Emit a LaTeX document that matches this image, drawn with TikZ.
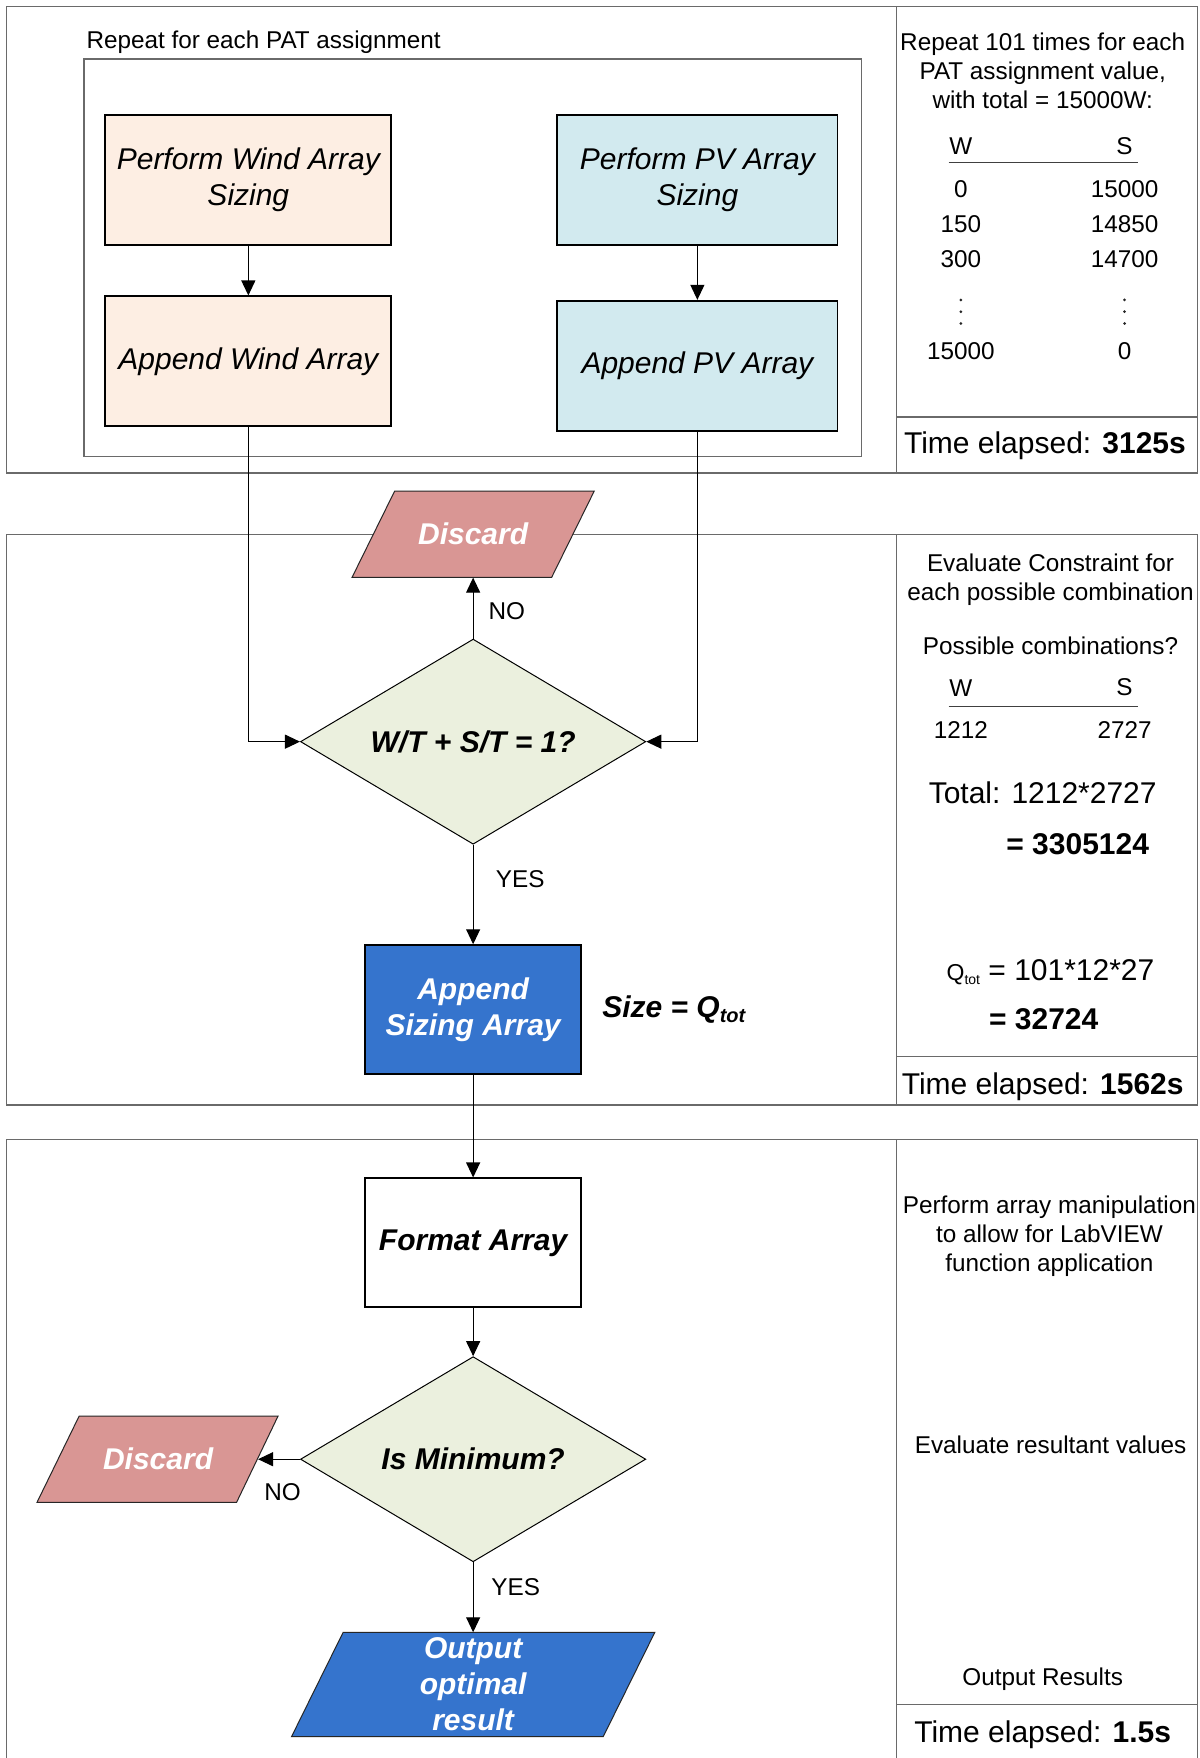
\documentclass[tikz,border=0pt]{standalone}
\usepackage{fontspec}
\setmainfont{Liberation Sans}
\usetikzlibrary{arrows.meta,shapes.geometric}
\definecolor{windc}{HTML}{FDEEE3}
\definecolor{pvc}{HTML}{D2EAEF}
\definecolor{discc}{HTML}{D99694}
\definecolor{diac}{HTML}{EBF0DE}
\definecolor{bluec}{HTML}{3574CD}
\definecolor{framec}{HTML}{6A6A6A}
\newcommand\smf{\fontsize{24.3}{29}\selectfont}
\newcommand\bgf{\fontsize{30}{36}\selectfont}
\begin{document}
\begin{tikzpicture}[x=1.1215pt,y=-1.1215pt,
  frame/.style={draw=framec,line width=1.3pt},
  procbox/.style={rectangle,draw=black,line width=1.8pt,align=center,font=\bgf\itshape,inner sep=0pt},
  decision/.style={diamond,aspect=1.68,draw=black,line width=1pt,fill=diac,inner sep=0pt,minimum width=345.4pt,minimum height=205.2pt,font=\bgf\bfseries\itshape},
  paratext/.style={rectangle,inner sep=0pt,align=center,font=\bgf\bfseries\itshape,text=white},
  parashape/.style={draw=black!85,line width=1pt},
  conn/.style={draw=black,line width=1.1pt},
  arr/.style={conn,-{Triangle[length=15pt,width=14pt]}},
  lbl/.style={font=\smf,inner sep=0pt,align=center},
  big/.style={font=\bgf,inner sep=0pt,align=center}
]
\useasboundingbox (0,0) rectangle (1070,1568);
\fill[white] (0,0) rectangle (1070,1568);

% section frames
\draw[frame] (5.5,6) rectangle (1068,422);
\draw[frame] (799.5,6) -- (799.5,422);
\draw[frame] (799.5,372) -- (1068,372);
\draw[frame] (75,52.5) rectangle (768.5,407);

\draw[frame] (5.5,476.5) rectangle (1068,985.5);
\draw[frame] (799.5,476.5) -- (799.5,985.5);
\draw[frame] (799.5,942.5) -- (1068,942.5);

\draw[frame] (5.5,1568) -- (5.5,1016.5) -- (1068,1016.5) -- (1068,1568);
\draw[frame] (799.5,1016.5) -- (799.5,1568);
\draw[frame] (799.5,1520) -- (1068,1520);

\node[lbl,anchor=west] (rep) at (77,37.5) {Repeat for each PAT assignment};

% process boxes
\node[procbox,fill=windc,minimum width=286pt,minimum height=130pt] (w1) at (221.5,160.5) {Perform Wind Array\\Sizing};
\node[procbox,fill=windc,minimum width=286pt,minimum height=130pt] (w2) at (221.5,322.3) {Append Wind Array};
\node[procbox,fill=pvc,minimum width=280.4pt,minimum height=130pt] (p1) at (622,160.5) {Perform PV Array\\Sizing};
\node[procbox,fill=pvc,minimum width=280.4pt,minimum height=130pt] (p2) at (622,326.2) {Append PV Array};

% discard 1
\draw[parashape,fill=discc] (314,515) -- (492,515) -- (530,438) -- (352,438) -- cycle;
\node[paratext,minimum width=199.6pt,minimum height=86.4pt] (d1) at (422,476.5) {Discard};

\node[decision] (dec1) at (422,661.5) {W/T + S/T = 1?};

\node[procbox,fill=bluec,text=white,font=\bgf\bfseries\itshape,minimum width=216.5pt,minimum height=129pt] (app) at (422,900.5) {Append\\Sizing Array};
\node[font=\bgf\bfseries\itshape,inner sep=0pt] (sizeq) at (601,900) {Size = Q\raisebox{-5pt}{\fontsize{20}{22}\selectfont tot}};

\node[procbox,fill=white,font=\bgf\bfseries\itshape,minimum width=216.5pt,minimum height=129pt] (fmt) at (422,1108.5) {Format Array};

\node[decision] (dec2) at (422,1301.5) {Is Minimum?};

% discard 2
\draw[parashape,fill=discc] (33,1340) -- (211,1340) -- (248,1263) -- (70.6,1263) -- cycle;
\node[paratext,minimum width=199.6pt,minimum height=86.4pt] (d2) at (141,1301.5) {Discard};

% output
\draw[parashape,fill=bluec] (260,1549) -- (538,1549) -- (584,1456) -- (306,1456) -- cycle;
\node[paratext,minimum width=311.8pt,minimum height=104.3pt] (out) at (422,1502.5) {Output\\optimal\\result};

% connectors
\draw[arr] (w1) -- (w2);
\draw[arr] (p1) -- (p2);
\draw[arr] (w2.south) |- (dec1.west);
\draw[arr] (p2.south) |- (dec1.east);
\draw[arr] (dec1.north) -- (d1.south);
\draw[arr] (dec1.south) -- (app.north);
\draw[arr] (app.south) -- (fmt.north);
\draw[arr] (fmt.south) -- (dec2.north);
\draw[arr] (dec2.west) -- (d2.east);
\draw[arr] (dec2.south) -- (out.north);

\node[lbl] (no1) at (452,545) {NO};
\node[lbl] (yes1) at (464,784) {YES};
\node[lbl] (no2) at (252,1331) {NO};
\node[lbl] (yes2) at (460,1416) {YES};

% right column section 1
\node[lbl] (r1) at (930,63) {Repeat 101 times for each\\PAT assignment value,\\with total = 15000W:};
\node[lbl] (hw1) at (857,130) {W};
\node[lbl] (hs1) at (1003,130) {S};
\draw[draw=black!75,line width=1pt] (846,145) -- (1015,145);
\node[lbl] (a1) at (857,169) {0};
\node[lbl] (b1) at (1003,169) {15000};
\node[lbl] (a2) at (857,200) {150};
\node[lbl] (b2) at (1003,200) {14850};
\node[lbl] (a3) at (857,231) {300};
\node[lbl] (b3) at (1003,231) {14700};
\foreach \xx in {857,1003} {
  \foreach \yy in {267.5,278,288.5} {
    \fill[black!85] (\xx,\yy) circle (1.5pt);
  }
}
\node[lbl] (a4) at (857,313) {15000};
\node[lbl] (b4) at (1003,313) {0};
\node[big] (t1) at (932,398) {Time elapsed: \textbf{3125s}};

% right column section 2
\node[lbl] (r2) at (937,517) {Evaluate Constraint for\\each possible combination};
\node[lbl] (r3) at (937,576) {Possible combinations?};
\node[lbl] (hw2) at (857,614) {W};
\node[lbl] (hs2) at (1003,613) {S};
\draw[draw=black!75,line width=1pt] (846,630) -- (1015,630);
\node[lbl] (c1) at (857,651) {1212};
\node[lbl] (c2) at (1003,651) {2727};
\node[big] (tot) at (930,707) {Total: 1212*2727};
\node[big,anchor=east] (tot2) at (1025,753) {\textbf{= 3305124}};
\node[big] (q1) at (937,867) {{\fontsize{23}{24}\selectfont Q\raisebox{-4pt}{\fontsize{14}{15}\selectfont tot}} = 101*12*27};
\node[big,anchor=west] (q2) at (882,909) {\textbf{= 32724}};
\node[big] (t2) at (930,969) {Time elapsed: \textbf{1562s}};

% right column section 3
\node[lbl] (r4) at (936,1103) {Perform array manipulation\\to allow for LabVIEW\\function application};
\node[lbl] (r5) at (937,1289) {Evaluate resultant values};
\node[lbl] (r6) at (930,1497.5) {Output Results};
\node[big] (t3) at (930,1547) {Time elapsed: \textbf{1.5s}};
\end{tikzpicture}
\end{document}
